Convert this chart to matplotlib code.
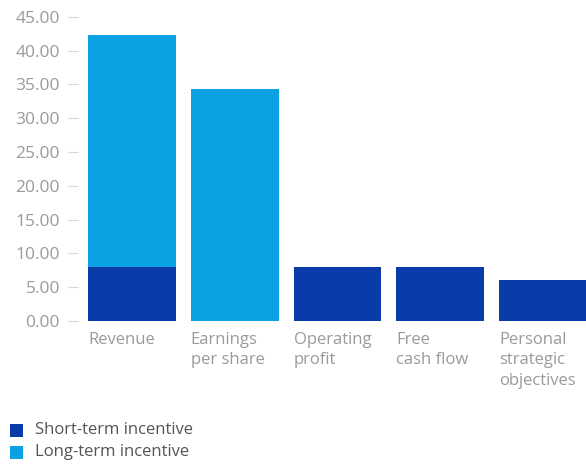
import matplotlib
matplotlib.use("Agg")
import matplotlib.pyplot as plt
from matplotlib.patches import Rectangle
import numpy as np

categories = ["Revenue", "Earnings\nper share", "Operating\nprofit", "Free\ncash flow",
              "Personal\nstrategic\nobjectives"]
short_term = [8.0, 0.0, 8.0, 8.0, 6.0]
long_term = [34.3, 34.3, 0.0, 0.0, 0.0]
y_ticks = [0, 5, 10, 15, 20, 25, 30, 35, 40, 45]
series_names = ["Short-term incentive", "Long-term incentive"]

dark_blue = "#0b3ba8"
light_blue = "#0aa2e2"
axis_grey = "#9a9a9a"

plt.rcParams["font.family"] = ["Open Sans", "DejaVu Sans"]

W, H = 586, 465
fig = plt.figure(figsize=(W / 100, H / 100), dpi=100)
ax = fig.add_axes([78 / W, (H - 321) / H, (W - 78) / W, 304.3 / H])

x = np.arange(len(categories))
width = 0.855
ax.bar(x, short_term, width=width, color=dark_blue, linewidth=0)
ax.bar(x, long_term, width=width, bottom=short_term, color=light_blue, linewidth=0)

ax.set_xlim(-(132 - 78) / 103, 4 + (586 - 543) / 103)
ax.set_ylim(0, 45)

for s in ax.spines.values():
    s.set_visible(False)

ax.set_yticks(y_ticks)
ax.set_yticklabels([f"{v:.2f}" for v in y_ticks])
ax.tick_params(axis="y", direction="out", length=7, width=0.8, color="#d8d8d8",
               pad=6, labelsize=12.5, labelcolor=axis_grey)

ax.set_xticks(x - width / 2)
ax.set_xticklabels(categories, ha="left", va="top", linespacing=1.35)
ax.tick_params(axis="x", length=0, pad=8, labelsize=12, labelcolor=axis_grey)

# legend drawn as swatches with labels below the chart
for i, (name, col) in enumerate(zip(series_names, [dark_blue, light_blue])):
    yc = 430 + i * 22
    fig.patches.append(Rectangle((10 / W, (H - yc - 6.5) / H), 13 / W, 13 / H,
                                 transform=fig.transFigure, color=col, linewidth=0))
    fig.text(35 / W, (H - yc) / H, name, ha="left", va="center", fontsize=12,
             color="#555555")

fig.savefig("out.png", dpi=100)
